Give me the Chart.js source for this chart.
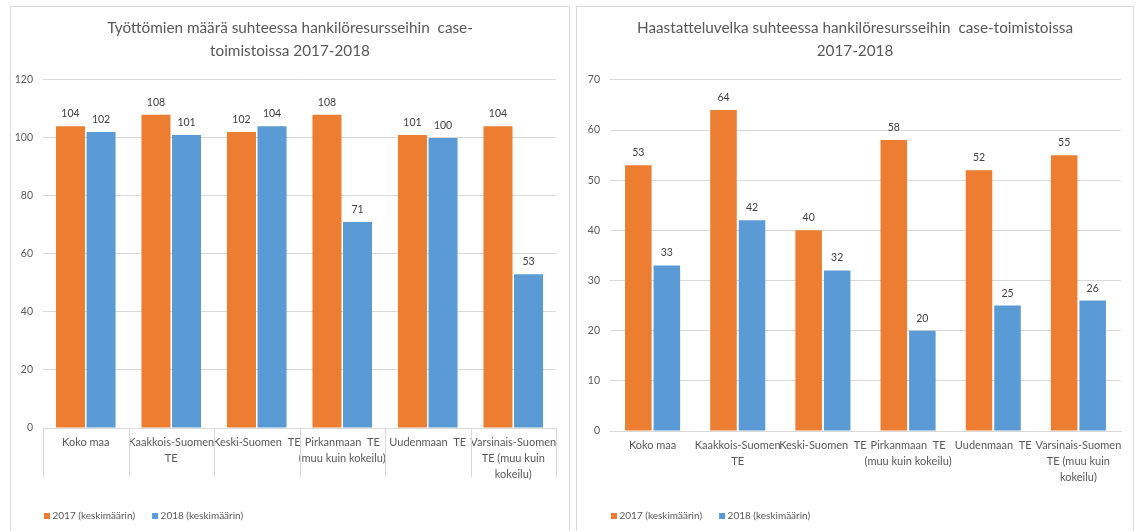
<!DOCTYPE html>
<html>
<head>
<meta charset="utf-8">
<title>Työttömät ja haastatteluvelka case-toimistoissa 2017-2018</title>
<script src="https://cdn.jsdelivr.net/npm/chart.js@4/dist/chart.umd.min.js"></script>
<style>
  html, body { margin: 0; padding: 0; background: #fff; width: 1136px; height: 531px; overflow: hidden; }
  .panel { position: absolute; top: 6px; height: 540px; border: 1px solid #d9d9d9; background: #fff; }
  #panelLeft { left: 10px; width: 558px; }
  #panelRight { left: 576px; width: 556px; }
  .panel canvas { position: absolute; left: 0; top: 0; }
</style>
</head>
<body>
<div class="panel" id="panelLeft"><canvas id="unemployedChart" width="558" height="524"></canvas></div>
<div class="panel" id="panelRight"><canvas id="backlogChart" width="556" height="524"></canvas></div>
<script>
// Offices compared (multi-line axis labels)
const categories = [
  ["Koko maa"],
  ["Kaakkois-Suomen", "TE"],
  ["Keski-Suomen  TE"],
  ["Pirkanmaan  TE", "(muu kuin kokeilu)"],
  ["Uudenmaan  TE"],
  ["Varsinais-Suomen", "TE (muu kuin", "kokeilu)"]
];
const seriesNames = ["2017 (keskimäärin)", "2018 (keskimäärin)"];

// Unemployed job seekers per staff resources
const unemployed2017 = [104, 108, 102, 108, 101, 104];
const unemployed2018 = [102, 101, 104, 71, 100, 53];
const unemployedTitle = ["Työttömien määrä suhteessa hankilöresursseihin  case-", "toimistoissa 2017-2018"];
const unemployedMax = 120;
const unemployedStep = 20;

// Interview backlog per staff resources
const backlog2017 = [53, 64, 40, 58, 52, 55];
const backlog2018 = [33, 42, 32, 20, 25, 26];
const backlogTitle = ["Haastatteluvelka suhteessa hankilöresursseihin  case-toimistoissa", "2017-2018"];
const backlogMax = 70;
const backlogStep = 10;

const ORANGE = '#ED7D31';
const BLUE = '#5B9BD5';
const TEXT = '#595959';
const GRID = '#d9d9d9';
const FONT = 'Lato, "Open Sans", sans-serif';

// Title spans the whole canvas so it is centred on the panel
const fullWidthTitle = {
  id: 'fullWidthTitle',
  afterLayout(chart) {
    const t = chart.titleBlock;
    if (t) { t.left = 0; t.right = chart.width; t.width = chart.width; }
  }
};

// Value printed above each bar
const valueLabels = {
  id: 'valueLabels',
  afterDatasetsDraw(chart) {
    const ctx = chart.ctx;
    ctx.save();
    ctx.font = '10.5px ' + FONT;
    ctx.fillStyle = '#404040';
    ctx.textAlign = 'center';
    ctx.textBaseline = 'alphabetic';
    chart.data.datasets.forEach((ds, i) => {
      chart.getDatasetMeta(i).data.forEach((bar, j) => {
        ctx.fillText(String(ds.data[j]), bar.x, bar.y - 9);
      });
    });
    ctx.restore();
  }
};

// Vertical separators between category labels under the axis
const categoryDividers = {
  id: 'categoryDividers',
  afterDraw(chart, args, opts) {
    if (!opts.length) return;
    const x = chart.scales.x;
    const n = chart.data.labels.length;
    const half = (x.getPixelForValue(1) - x.getPixelForValue(0)) / 2;
    const ctx = chart.ctx;
    const top = chart.chartArea.bottom;
    ctx.save();
    ctx.strokeStyle = GRID;
    ctx.lineWidth = 1;
    ctx.beginPath();
    for (let i = 0; i <= n; i++) {
      const px = Math.round(x.getPixelForValue(0) - half + i * 2 * half) + 0.5;
      ctx.moveTo(px, top);
      ctx.lineTo(px, top + opts.length);
    }
    ctx.stroke();
    ctx.restore();
  }
};

// Compact legend row under the axis
const bottomLegend = {
  id: 'bottomLegend',
  afterDraw(chart, args, opts) {
    const ctx = chart.ctx;
    ctx.save();
    ctx.font = '10px ' + FONT;
    ctx.textBaseline = 'middle';
    ctx.textAlign = 'left';
    let x = chart.chartArea.left + opts.offsetX;
    const y = opts.y;
    chart.data.datasets.forEach(ds => {
      ctx.fillStyle = ds.backgroundColor;
      ctx.fillRect(x, y - 3, 6, 6);
      ctx.fillStyle = TEXT;
      ctx.fillText(ds.label, x + 8.5, y);
      x += 8.5 + ctx.measureText(ds.label).width + 17;
    });
    ctx.restore();
  }
};

function makeChart(canvasId, cfg) {
  return new Chart(document.getElementById(canvasId), {
    type: 'bar',
    data: {
      labels: categories,
      datasets: [
        { label: seriesNames[0], data: cfg.a, backgroundColor: ORANGE,
          categoryPercentage: cfg.catPct, barPercentage: cfg.barPct },
        { label: seriesNames[1], data: cfg.b, backgroundColor: BLUE,
          categoryPercentage: cfg.catPct, barPercentage: cfg.barPct }
      ]
    },
    options: {
      responsive: false,
      animation: false,
      devicePixelRatio: 1,
      layout: { padding: { left: 0, right: cfg.padRight, top: 0, bottom: cfg.padBottom } },
      plugins: {
        legend: { display: false },
        tooltip: { enabled: false },
        title: {
          display: true,
          text: cfg.title,
          color: TEXT,
          font: { family: FONT, size: 15.3, weight: 'normal', lineHeight: '22.7px' },
          padding: { top: 10, bottom: 17.5 }
        },
        bottomLegend: { offsetX: 1, y: 509 },
        categoryDividers: { length: cfg.dividers }
      },
      scales: {
        x: {
          grid: { display: false },
          border: { display: true, color: GRID },
          ticks: {
            color: TEXT, font: { family: FONT, size: 11, lineHeight: '16px' },
            maxRotation: 0, minRotation: 0, autoSkip: false,
            padding: cfg.labelGap
          }
        },
        y: {
          min: 0, max: cfg.max,
          afterFit(scale) { scale.width = cfg.axisWidth; },
          grid: { color: GRID, drawTicks: false },
          border: { display: false },
          ticks: { stepSize: cfg.step, color: TEXT, font: { family: FONT, size: 10.5 }, padding: 10 }
        }
      }
    },
    plugins: [fullWidthTitle, valueLabels, categoryDividers, bottomLegend]
  });
}

makeChart('unemployedChart', {
  a: unemployed2017, b: unemployed2018, title: unemployedTitle,
  max: unemployedMax, step: unemployedStep,
  catPct: 0.715, barPct: 0.95, padRight: 13, axisWidth: 32,
  padBottom: 51, labelGap: -2, dividers: 49
});
makeChart('backlogChart', {
  a: backlog2017, b: backlog2018, title: backlogTitle,
  max: backlogMax, step: backlogStep,
  catPct: 0.67, barPct: 0.93, padRight: 12, axisWidth: 33,
  padBottom: 48, labelGap: -2, dividers: 0
});
</script>
</body>
</html>
